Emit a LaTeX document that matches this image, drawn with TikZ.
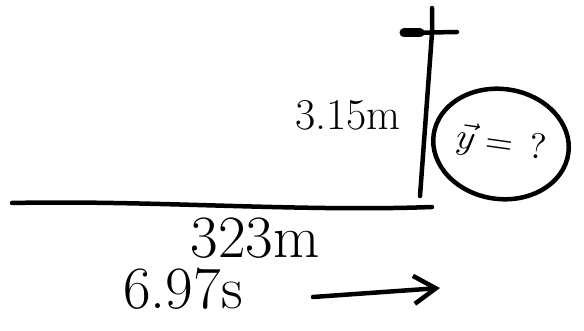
\documentclass[tikz,border=0pt]{standalone}
\usepackage{amsmath}
\usepackage{graphicx}
\usepackage{tikz}
\usetikzlibrary{arrows.meta,positioning,shapes.geometric}

\begin{document}
\begin{tikzpicture}[
  x=1pt, y=-1pt,
  pen/.style={line width=4.5pt, line cap=round, line join=round},
  lbl/.style={inner sep=0pt, font=\fontsize{44}{50}\selectfont},
  big/.style={inner sep=0pt, font=\fontsize{60}{66}\selectfont},
  arr/.style={pen, -{Straight Barb[length=22pt, width=28pt, line width=4.5pt]}},
  node distance=2pt and 0pt
]
\useasboundingbox (0,0) rectangle (584,331);

% ground and pole
\coordinate (g0) at (12,203);
\coordinate (g1) at (432,207);
\draw[pen] (g0) .. controls (150,200) and (300,212) .. (g1);
\coordinate (p0) at (420,196);
\coordinate (p1) at (432,8);
\draw[pen] (p0) -- (432,33) .. controls (432,20) .. (p1);
\draw[pen] (403,33) -- (457,32);
\draw[line width=9pt, line cap=round] (404,33) -- (420,33);

% labels
\node[lbl] (h) at (348,115) {3.15m};
\node[draw, pen, ellipse, minimum width=136pt, minimum height=110pt, rotate=-8,
      inner sep=0pt] (y) at (501,144) {\scalebox{3.6}{$\vec{y}={}\,?$}};
\node[big] (d) at (255,238) {323m};
\node[big, below=9pt of d, xshift=-72pt] (t) {6.97s};

% motion arrow
\coordinate (a0) at (313,297);
\coordinate (a1) at (440,288);
\draw[arr] (a0) -- (a1);
\end{tikzpicture}
\end{document}
